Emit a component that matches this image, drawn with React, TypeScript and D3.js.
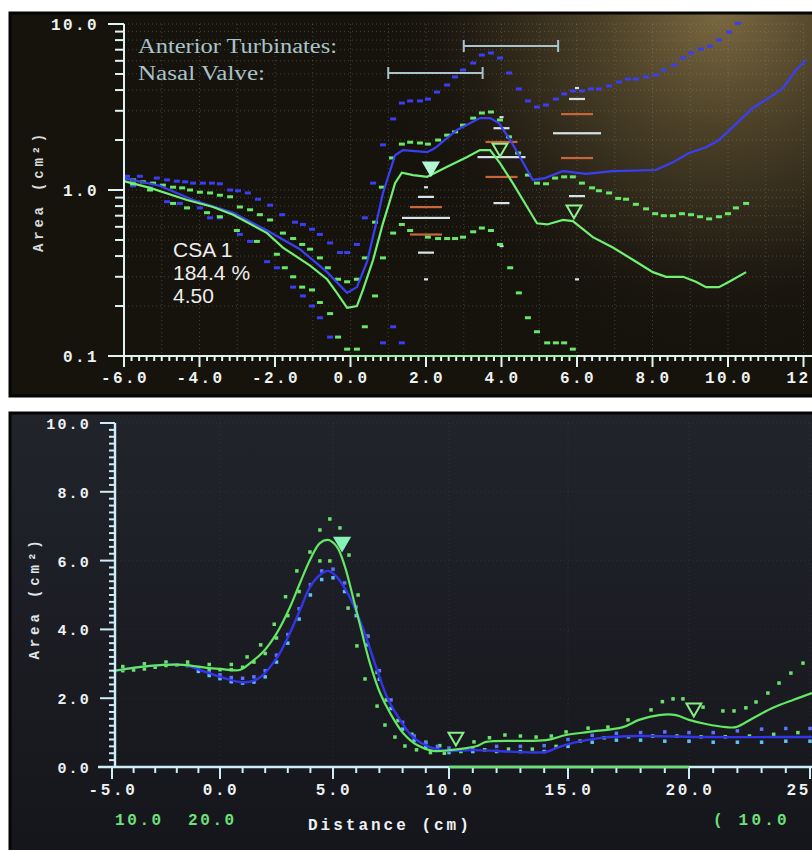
import React, { Component } from "react";
import * as d3 from "d3";

// ---------- upper photo: area (log) vs distance ----------
const topDistTickValues = [-6, -4, -2, 0, 2, 4, 6, 8, 10, 12];
const topDistTicks = ["-6.0", "-4.0", "-2.0", "0.0", "2.0", "4.0", "6.0", "8.0", "10.0", "12."];
const topAreaTickValues = [0.1, 1, 10];
const topAreaTicks = ["0.1", "1.0", "10.0"];

const topBlueLine = [
  [-6.0, 1.18], [-5.05, 1.06], [-4.17, 0.87], [-3.11, 0.73], [-2.21, 0.57], [-1.34, 0.44],
  [-0.62, 0.32], [-0.09, 0.24], [0.17, 0.26], [0.44, 0.37], [0.7, 0.66], [0.86, 0.96],
  [1.18, 1.62], [1.39, 1.74], [2.03, 1.69], [2.24, 1.79], [2.82, 2.3], [3.43, 2.71],
  [3.7, 2.71], [3.93, 2.53], [4.23, 2.0], [4.49, 1.58], [4.83, 1.15], [5.15, 1.18],
  [5.63, 1.3], [6.24, 1.25], [6.95, 1.3], [8.09, 1.32], [8.54, 1.47], [8.97, 1.67],
  [9.42, 1.81], [9.76, 2.0], [10.13, 2.4], [10.66, 3.12], [11.19, 3.73], [11.46, 4.12],
  [11.8, 5.28], [12.07, 6.07],
];

const topGreenLine = [
  [-6.0, 1.13], [-5.31, 1.03], [-4.33, 0.87], [-3.64, 0.79], [-3.11, 0.71], [-2.21, 0.55],
  [-1.79, 0.45], [-1.07, 0.35], [-0.62, 0.29], [-0.36, 0.24], [-0.09, 0.195], [0.17, 0.2],
  [0.33, 0.25], [0.6, 0.38], [0.86, 0.63], [1.05, 0.87], [1.18, 1.1], [1.36, 1.27],
  [1.66, 1.23], [2.03, 1.2], [2.56, 1.38], [3.09, 1.58], [3.43, 1.74], [3.7, 1.74],
  [3.96, 1.45], [4.3, 1.1], [4.68, 0.79], [4.94, 0.63], [5.21, 0.62], [5.63, 0.66],
  [5.89, 0.65], [6.42, 0.52], [6.95, 0.45], [7.48, 0.38], [8.01, 0.32], [8.36, 0.3],
  [8.81, 0.3], [9.15, 0.28], [9.42, 0.26], [9.76, 0.26], [10.03, 0.28], [10.48, 0.32],
];

const topBlueUpper = [
  [-5.92, 1.21], [-5.58, 1.21], [-5.13, 1.18], [-4.86, 1.15], [-4.6, 1.13], [-4.38, 1.12],
  [-4.17, 1.1], [-3.91, 1.1], [-3.67, 1.1], [-3.46, 1.09], [-3.19, 1.0], [-2.98, 0.99],
  [-2.72, 0.96], [-2.45, 0.88], [-2.13, 0.81], [-1.81, 0.71], [-1.47, 0.64], [-1.26, 0.62],
  [-1.02, 0.58], [-0.81, 0.54], [-0.54, 0.48], [-0.28, 0.42], [-0.09, 0.42], [0.17, 0.47],
  [0.38, 0.68], [0.6, 1.1], [0.86, 1.87], [1.13, 2.68], [1.36, 3.34], [1.58, 3.44],
  [1.84, 3.44], [2.05, 3.53], [2.29, 3.89], [2.56, 4.29], [2.77, 4.8], [2.98, 5.28],
  [3.25, 5.82], [3.48, 6.5], [3.72, 6.69], [3.96, 6.24], [4.2, 5.07], [4.46, 4.06],
  [4.7, 3.44], [4.94, 3.16], [5.18, 3.25], [5.44, 3.53], [5.66, 3.79], [5.89, 3.95],
  [6.13, 3.95], [6.37, 4.06], [6.58, 4.06], [6.85, 4.23], [7.11, 4.47], [7.35, 4.66],
  [7.56, 4.66], [7.83, 4.8], [8.09, 4.93], [8.3, 5.28], [8.57, 5.66], [8.81, 6.24],
  [9.02, 6.69], [9.28, 7.06], [9.52, 7.36], [9.76, 8.01], [10.03, 8.94], [10.26, 10.1],
];

const topBlueLower = [
  [-5.76, 1.06], [-5.31, 1.03], [-4.86, 0.85], [-4.52, 0.83], [-3.99, 0.78], [-3.72, 0.68],
  [-3.46, 0.68], [-2.93, 0.54], [-2.66, 0.49], [-2.21, 0.37], [-1.95, 0.34], [-1.52, 0.26],
  [-1.26, 0.23], [-1.02, 0.2], [-0.81, 0.17], [-0.54, 0.13], [0.86, 0.12], [1.13, 0.15],
  [1.36, 0.12],
];

const topGreenUpper = [
  [-5.76, 1.15], [-5.5, 1.12], [-5.23, 1.1], [-4.97, 1.07], [-4.7, 1.04], [-4.46, 1.03],
  [-4.25, 1.0], [-3.99, 0.97], [-3.72, 0.96], [-3.46, 0.93], [-3.19, 0.91], [-2.93, 0.79],
  [-2.66, 0.76], [-2.4, 0.71], [-2.13, 0.66], [-1.79, 0.55], [-1.52, 0.51], [-1.28, 0.47],
  [-1.07, 0.44], [-0.81, 0.39], [-0.6, 0.34], [-0.33, 0.29], [-0.09, 0.28], [0.17, 0.29],
  [0.38, 0.39], [0.65, 0.64], [0.83, 1.04], [1.1, 1.56], [1.36, 1.89], [1.58, 1.94],
  [1.84, 1.92], [2.05, 1.89], [2.32, 2.0], [2.56, 2.14], [2.77, 2.24], [2.98, 2.46],
  [3.25, 2.71], [3.48, 2.91], [3.72, 2.95], [3.96, 2.64], [4.2, 2.09], [4.44, 1.67],
  [4.7, 1.23], [4.94, 1.1], [5.18, 1.09], [5.42, 1.18], [5.66, 1.2], [5.89, 1.2],
  [6.13, 1.1], [6.4, 1.03], [6.58, 0.99], [6.85, 0.96], [7.09, 0.89], [7.3, 0.88],
  [7.56, 0.82], [7.83, 0.77], [8.07, 0.72], [8.3, 0.7], [8.54, 0.7], [8.78, 0.72],
  [9.02, 0.71], [9.26, 0.69], [9.5, 0.67], [9.76, 0.69], [10.0, 0.72], [10.21, 0.78],
  [10.48, 0.83],
];

const topGreenLower = [
  [-5.76, 1.09], [-5.31, 1.0], [-4.7, 0.83], [-4.33, 0.78], [-3.8, 0.73], [-3.46, 0.69],
  [-3.01, 0.57], [-2.48, 0.49], [-1.95, 0.41], [-1.74, 0.34], [-1.52, 0.3], [-1.28, 0.26],
  [-1.02, 0.25], [-0.81, 0.21], [-0.54, 0.18], [-0.33, 0.13], [-0.09, 0.11], [0.17, 0.11],
  [0.38, 0.15], [0.65, 0.23], [0.86, 0.39], [1.13, 0.55], [1.36, 0.62], [1.58, 0.57],
  [2.05, 0.52], [2.32, 0.51], [2.56, 0.51], [2.77, 0.51], [2.98, 0.52], [3.25, 0.56],
  [3.48, 0.59], [3.72, 0.57], [3.96, 0.47], [4.23, 0.34], [4.46, 0.24], [4.7, 0.17],
  [4.94, 0.14], [5.21, 0.12], [5.44, 0.12], [5.66, 0.12], [5.89, 0.11],
];

// spread markers at 2, 4 and 6 cm: min, p10, q1, median, q3, p90, max
const boxDist = [2, 4, 6];
const boxStats = [
  [0.29, 0.42, 0.54, 0.68, 0.79, 0.91, 1.04],
  [0.46, 0.835, 1.2, 1.58, 1.95, 2.36, 2.75],
  [0.29, 0.92, 1.56, 2.2, 2.87, 3.54, 4.12],
];

const topMarkerDist = [2.13, 3.96, 5.92];
const topMarkerArea = [1.38, 1.79, 0.76];
const topMarkerFilled = [true, false, false];

const rangeLabels = ["Anterior Turbinates:", "Nasal Valve:"];
const rangeStart = [3.0, 1.0];
const rangeEnd = [5.5, 3.5];

const csaLines = ["CSA 1", "184.4 %", "4.50"];

// ---------- lower photo: area (linear) vs distance ----------
const botDistTickValues = [-5, 0, 5, 10, 15, 20, 25];
const botDistTicks = ["-5.0", "0.0", "5.0", "10.0", "15.0", "20.0", "25.0"];
const botAreaTickValues = [0, 2, 4, 6, 8, 10];
const botAreaTicks = ["0.0", "2.0", "4.0", "6.0", "8.0", "10.0"];
const botRange = [10, 20];

const botGreenLine = [
  [-4.95, 2.79], [-3.24, 2.94], [-1.71, 2.97], [-0.6, 2.88], [0, 2.85], [0.88, 2.82],
  [1.33, 3.02], [1.9, 3.34], [2.52, 3.9], [3.1, 4.65], [3.54, 5.35], [3.98, 6.02],
  [4.42, 6.51], [4.78, 6.6], [5.17, 6.4], [5.52, 5.81], [5.86, 4.94], [6.25, 3.9],
  [6.59, 3.02], [7.03, 2.15], [7.46, 1.57], [8.02, 0.99], [8.62, 0.64], [9.31, 0.47],
  [10.04, 0.49], [11.18, 0.61], [11.55, 0.73], [14.08, 0.78], [14.92, 0.93], [15.87, 1.02],
  [17.27, 1.16], [17.93, 1.37], [18.76, 1.51], [19.46, 1.51], [20.0, 1.37], [20.7, 1.25],
  [21.53, 1.16], [21.94, 1.16], [22.64, 1.42], [23.47, 1.72], [24.3, 1.95], [25.08, 2.15],
];

const botBlueLine = [
  [-4.95, 2.79], [-3.24, 2.94], [-1.71, 2.97], [-0.93, 2.82], [0, 2.62], [0.88, 2.47],
  [1.46, 2.5], [1.9, 2.67], [2.35, 3.02], [2.65, 3.31], [3.1, 3.9], [3.54, 4.56],
  [3.98, 5.23], [4.42, 5.58], [4.78, 5.7], [5.17, 5.52], [5.6, 5.09], [6.03, 4.48],
  [6.47, 3.69], [6.9, 2.82], [7.33, 2.03], [7.89, 1.37], [8.45, 0.87], [9.18, 0.58],
  [9.91, 0.47], [10.99, 0.49], [14.08, 0.44], [14.5, 0.55], [15.21, 0.7], [16.28, 0.84],
  [17.93, 0.9], [20.7, 0.87], [23.47, 0.87], [25.08, 0.87],
];

const botGreenUpper = [
  [-4.5, 2.92], [-3.5, 3.0], [-2.5, 3.05], [-1.5, 3.05], [-0.5, 2.98], [0.5, 2.98],
  [1.2, 3.2], [1.8, 3.55], [2.4, 4.15], [2.9, 4.95], [3.4, 5.7], [3.98, 6.25],
  [4.42, 6.89], [4.86, 7.21], [5.3, 6.95], [5.69, 6.16], [6.08, 5.0], [6.5, 3.8],
  [6.9, 2.75], [7.3, 1.95], [7.8, 1.35], [8.4, 0.95], [9.0, 0.72], [9.6, 0.62],
  [11.05, 0.73], [11.7, 0.85], [12.35, 0.93], [13.0, 0.9], [13.66, 0.87], [14.3, 0.9],
  [14.92, 1.02], [15.83, 1.13], [16.65, 1.16], [17.48, 1.37], [18.43, 1.66], [18.9, 1.9],
  [19.34, 1.98], [19.75, 1.98], [20.58, 1.74], [21.4, 1.63], [21.86, 1.63], [22.35, 1.72],
  [22.77, 1.89], [23.26, 2.15], [23.72, 2.44], [24.21, 2.73], [24.71, 3.02],
];

const botGreenLower = [
  [-4.5, 2.8], [-4.0, 2.82], [-3.5, 2.85], [-3.0, 2.9], [-2.5, 2.95], [-2.0, 2.97],
  [-1.5, 2.95], [-1.0, 2.88], [-0.5, 2.84], [0.0, 2.83], [0.5, 2.83], [1.0, 2.9],
  [1.5, 3.05], [2.0, 3.3], [2.5, 3.75], [3.0, 4.4], [3.5, 5.1], [4.42, 5.99],
  [4.86, 5.99], [5.65, 4.62], [6.03, 3.52], [6.38, 2.56], [6.9, 1.77], [7.24, 1.22],
  [7.67, 0.87], [8.1, 0.61], [8.6, 0.5], [9.2, 0.42], [9.8, 0.4], [10.5, 0.45],
  [11.5, 0.5], [12.5, 0.52], [13.5, 0.52], [14.5, 0.6], [15.5, 0.75], [16.5, 0.85],
  [17.5, 0.88], [18.5, 0.9], [19.5, 0.9], [20.5, 0.88], [21.5, 0.88], [22.5, 0.9],
  [23.5, 0.95], [24.5, 1.0],
];

const botBlueUpper = [
  [-1.0, 2.85], [-0.5, 2.75], [0.0, 2.68], [0.5, 2.6], [1.0, 2.58], [1.5, 2.62],
  [2.0, 2.8], [2.5, 3.25], [3.0, 3.85], [3.5, 4.6], [4.0, 5.3], [4.5, 5.7],
  [5.0, 5.75], [5.5, 5.35], [6.0, 4.65], [6.5, 3.8], [7.0, 2.8], [7.5, 1.95],
  [8.0, 1.3], [8.5, 0.9], [9.0, 0.7], [9.5, 0.6], [10, 0.55], [11, 0.55],
  [12, 0.6], [13, 0.6], [14, 0.62], [15, 0.8], [16, 0.92], [17, 0.98],
  [18, 1.0], [19, 1.02], [20, 1.0], [21, 1.0], [22, 1.05], [23, 1.1], [24, 1.12], [25, 1.12],
];

const botBlueLower = [
  [-1.0, 2.78], [-0.5, 2.66], [0.0, 2.57], [0.5, 2.48], [1.0, 2.44], [1.5, 2.47],
  [2.0, 2.62], [2.5, 3.05], [3.0, 3.6], [3.5, 4.3], [4.0, 5.0], [4.5, 5.45],
  [5.0, 5.5], [5.5, 5.1], [6.0, 4.4], [6.5, 3.55], [7.0, 2.55], [7.5, 1.7],
  [8.0, 1.1], [8.5, 0.78], [9.0, 0.58], [9.5, 0.5], [10, 0.42], [11, 0.45],
  [12, 0.45], [13, 0.45], [14, 0.45], [15, 0.6], [16, 0.72], [17, 0.78],
  [18, 0.78], [19, 0.75], [20, 0.75], [21, 0.72], [22, 0.72], [23, 0.72], [24, 0.75], [25, 0.75],
];

const botMarkerDist = [5.39, 10.29, 20.2];
const botMarkerArea = [6.54, 0.87, 1.72];
const botMarkerFilled = [true, false, false];

const mono = "'Liberation Mono', 'DejaVu Sans Mono', monospace";

class App extends Component {
  constructor(props) {
    super(props);
    this.svgRef = React.createRef();
    this.draw = this.draw.bind(this);
  }

  componentDidMount() {
    this.draw();
  }

  marks(g, data, x, y, color, w, h) {
    g.append("g")
      .selectAll("rect")
      .data(data)
      .enter()
      .append("rect")
      .attr("x", (d) => x(d[0]) - w / 2)
      .attr("y", (d) => y(d[1]) - h / 2)
      .attr("width", w)
      .attr("height", h)
      .attr("fill", color);
  }

  triangles(g, xs, ys, filled, x, y, fillColor, lineColor) {
    const tri = d3.symbol().type(d3.symbolTriangle).size(95);
    g.append("g")
      .selectAll("path")
      .data(xs.map((d, i) => i))
      .enter()
      .append("path")
      .attr("d", tri)
      .attr("transform", (i) => `translate(${x(xs[i])},${y(ys[i])}) rotate(180)`)
      .attr("fill", (i) => (filled[i] ? fillColor : "none"))
      .attr("stroke", (i) => (filled[i] ? fillColor : lineColor))
      .attr("stroke-width", 2);
  }

  drawTop(svg) {
    const g = svg.append("g").attr("clip-path", "url(#clipTop)");
    g.append("rect").attr("x", 9).attr("y", 12).attr("width", 803).attr("height", 385).attr("fill", "#16130d");
    g.append("rect").attr("x", 9).attr("y", 12).attr("width", 803).attr("height", 385).attr("fill", "url(#glowTop)");

    const x = d3.scaleLinear().domain([-6, 12]).range([124, 803.5]);
    const y = d3.scaleLog().domain([0.1, 10]).range([356, 24]);

    // dotted grid
    const grid = g.append("g").attr("stroke", "#9a9a90").attr("stroke-opacity", 0.35).attr("stroke-dasharray", "1 3");
    grid.selectAll(".gx").data(d3.range(-5, 13)).enter().append("line")
      .attr("x1", (d) => x(d)).attr("x2", (d) => x(d)).attr("y1", y(10)).attr("y2", y(0.1));
    grid.selectAll(".gy").data(y.ticks()).enter().append("line")
      .attr("x1", x(-6)).attr("x2", x(12)).attr("y1", (d) => y(d)).attr("y2", (d) => y(d));

    // range bars
    const rb = g.append("g").attr("stroke", "#a9c3cb").attr("stroke-width", 2);
    rangeStart.forEach((s, i) => {
      const yy = 46 + i * 27;
      rb.append("line").attr("x1", x(s)).attr("x2", x(rangeEnd[i])).attr("y1", yy).attr("y2", yy);
      rb.append("line").attr("x1", x(s)).attr("x2", x(s)).attr("y1", yy - 6).attr("y2", yy + 6);
      rb.append("line").attr("x1", x(rangeEnd[i])).attr("x2", x(rangeEnd[i])).attr("y1", yy - 6).attr("y2", yy + 6);
    });
    const labelWidths = [199, 127];
    g.append("g").selectAll("text").data(rangeLabels).enter().append("text")
      .attr("x", 138).attr("y", (d, i) => 53 + i * 27)
      .attr("font-family", "'Liberation Serif', 'DejaVu Serif', serif")
      .attr("font-size", 20).attr("fill", "#a9c3cb")
      .attr("textLength", (d, i) => labelWidths[i]).attr("lengthAdjust", "spacingAndGlyphs")
      .text((d) => d);

    // spread markers
    const widths = [4, 16, 32, 48, 32, 16, 4];
    const colors = ["#d6e4ea", "#d6e4ea", "#c8653a", "#d6e4ea", "#c8653a", "#d6e4ea", "#d6e4ea"];
    boxDist.forEach((bx, i) => {
      g.append("g").selectAll("rect").data(boxStats[i]).enter().append("rect")
        .attr("x", (d, j) => x(bx) - widths[j] / 2)
        .attr("y", (d) => y(d) - 1)
        .attr("width", (d, j) => widths[j])
        .attr("height", 2.2)
        .attr("fill", (d, j) => colors[j]);
    });

    // bands
    this.marks(g, topBlueUpper, x, y, "#3b3ef2", 6, 3);
    this.marks(g, topBlueLower, x, y, "#3b3ef2", 6, 3);
    this.marks(g, topGreenUpper, x, y, "#6ae66a", 6, 3);
    this.marks(g, topGreenLower, x, y, "#6ae66a", 6, 3);

    const line = d3.line().x((d) => x(d[0])).y((d) => y(d[1]));
    g.append("path").datum(topBlueLine).attr("d", line).attr("fill", "none").attr("stroke", "#3a3ff5").attr("stroke-width", 2.2);
    g.append("path").datum(topGreenLine).attr("d", line).attr("fill", "none").attr("stroke", "#72f072").attr("stroke-width", 2.2);

    this.triangles(g, topMarkerDist, topMarkerArea, topMarkerFilled, x, y, "#b3f7d6", "#8ef08e");

    // axes
    const ax = g.append("g").attr("stroke", "#dff3f3").attr("stroke-width", 2);
    ax.append("line").attr("x1", x(-6)).attr("x2", x(-6)).attr("y1", y(10)).attr("y2", y(0.1));
    ax.selectAll(".ty").data(y.ticks()).enter().append("line")
      .attr("x1", (d) => (topAreaTickValues.includes(d) ? x(-6) - 16 : x(-6) - 9))
      .attr("x2", x(-6)).attr("y1", (d) => y(d)).attr("y2", (d) => y(d));
    ax.append("line").attr("x1", x(-6) - 4).attr("x2", x(12) + 10).attr("y1", y(0.1)).attr("y2", y(0.1));
    g.append("line").attr("x1", x(0)).attr("x2", x(6)).attr("y1", y(0.1)).attr("y2", y(0.1))
      .attr("stroke", "#9ef0a8").attr("stroke-width", 2);
    const minor = d3.range(0, 91).map((i) => -6 + i * 0.2);
    ax.selectAll(".tx").data(minor).enter().append("line")
      .attr("x1", (d) => x(d)).attr("x2", (d) => x(d)).attr("y1", y(0.1))
      .attr("y2", (d, i) => (i % 10 === 0 ? y(0.1) + 11 : y(0.1) + 5));

    g.append("g").selectAll("text").data(topAreaTicks).enter().append("text")
      .attr("x", 99).attr("y", (d, i) => y(topAreaTickValues[i]) + 6)
      .attr("text-anchor", "end").attr("font-family", mono).attr("font-weight", "bold")
      .attr("font-size", 16).attr("letter-spacing", 2.4).attr("fill", "#eef2f2").text((d) => d);
    g.append("g").selectAll("text").data(topDistTicks).enter().append("text")
      .attr("x", (d, i) => x(topDistTickValues[i]) + 1).attr("y", 383)
      .attr("text-anchor", "middle").attr("font-family", mono).attr("font-weight", "bold")
      .attr("font-size", 16).attr("letter-spacing", 2.4).attr("fill", "#eef2f2").text((d) => d);
    g.append("text").attr("transform", "translate(43,191) rotate(-90)")
      .attr("text-anchor", "middle").attr("font-family", mono).attr("font-weight", "bold")
      .attr("font-size", 14).attr("letter-spacing", 3.8).attr("fill", "#d6dcdc").text("Area (cm²)");

    g.append("g").selectAll("text").data(csaLines).enter().append("text")
      .attr("x", 173).attr("y", (d, i) => 257 + i * 23)
      .attr("font-family", "'Liberation Sans', Arial, sans-serif")
      .attr("font-size", 21).attr("fill", "#eeeeee").text((d) => d);
  }

  drawBottom(svg) {
    const g = svg.append("g").attr("clip-path", "url(#clipBot)");
    g.append("rect").attr("x", 9).attr("y", 412).attr("width", 803).attr("height", 438).attr("fill", "url(#bgBot)");

    // piecewise scale follows the slight perspective of the photographed screen
    const x = d3.scaleLinear().domain(botDistTickValues).range([112, 220, 333, 449, 568, 689, 810]);
    const y = d3.scaleLinear().domain([0, 10]).range([767, 423]);

    const grid = g.append("g").attr("stroke", "#8890a0").attr("stroke-opacity", 0.14).attr("stroke-dasharray", "1 3");
    grid.selectAll(".gx").data(botDistTickValues.slice(1)).enter().append("line")
      .attr("x1", (d) => x(d)).attr("x2", (d) => x(d)).attr("y1", y(10)).attr("y2", y(0));
    grid.selectAll(".gy").data(botAreaTickValues.slice(1)).enter().append("line")
      .attr("x1", x(-5)).attr("x2", 812).attr("y1", (d) => y(d)).attr("y2", (d) => y(d));

    this.marks(g, botGreenUpper, x, y, "#6ee06e", 3.5, 3.5);
    this.marks(g, botGreenLower, x, y, "#6ee06e", 3.5, 3.5);
    this.marks(g, botBlueUpper, x, y, "#5c74ff", 3.5, 3.5);
    this.marks(g, botBlueLower, x, y, "#5cc4f2", 3.5, 3.5);

    const line = d3.line().x((d) => x(d[0])).y((d) => y(d[1])).curve(d3.curveCatmullRom);
    g.append("path").datum(botBlueLine).attr("d", line).attr("fill", "none").attr("stroke", "#3434ea").attr("stroke-width", 2.4);
    g.append("path").datum(botGreenLine).attr("d", line).attr("fill", "none").attr("stroke", "#62e862").attr("stroke-width", 2.2);

    this.triangles(g, botMarkerDist, botMarkerArea, botMarkerFilled, x, y, "#86f2b6", "#86f086");

    const ax = g.append("g").attr("stroke", "#cdeef8").attr("stroke-width", 2.4);
    ax.append("line").attr("x1", 115).attr("x2", 115).attr("y1", y(10)).attr("y2", y(0));
    ax.selectAll(".ty").data(d3.range(0, 51)).enter().append("line")
      .attr("x1", (i) => (i % 10 === 0 ? 100 : 109)).attr("x2", 115)
      .attr("y1", (i) => y(i * 0.2)).attr("y2", (i) => y(i * 0.2))
      .attr("stroke-width", 2);
    ax.append("line").attr("x1", 98).attr("x2", 812).attr("y1", y(0)).attr("y2", y(0));
    ax.selectAll(".tx").data(d3.range(-5, 26)).enter().append("line")
      .attr("x1", (d) => x(d)).attr("x2", (d) => x(d)).attr("y1", y(0))
      .attr("y2", (d) => (d % 5 === 0 ? y(0) + 12 : y(0) + 6))
      .attr("stroke-width", 2);
    g.append("line").attr("x1", x(botRange[0])).attr("x2", x(botRange[1])).attr("y1", y(0)).attr("y2", y(0))
      .attr("stroke", "#66e070").attr("stroke-width", 2.6);

    g.append("g").selectAll("text").data(botAreaTicks).enter().append("text")
      .attr("x", 91).attr("y", (d, i) => y(botAreaTickValues[i]) + 6)
      .attr("text-anchor", "end").attr("font-family", mono).attr("font-weight", "bold")
      .attr("font-size", 15).attr("letter-spacing", 2.2).attr("fill", "#eef2f4").text((d) => d);
    g.append("g").selectAll("text").data(botDistTicks).enter().append("text")
      .attr("x", (d, i) => x(botDistTickValues[i]) + 1).attr("y", 795)
      .attr("text-anchor", "middle").attr("font-family", mono).attr("font-weight", "bold")
      .attr("font-size", 16).attr("letter-spacing", 2.6).attr("fill", "#eef2f4").text((d) => d);
    g.append("text").attr("transform", "translate(39,598) rotate(-90)")
      .attr("text-anchor", "middle").attr("font-family", mono).attr("font-weight", "bold")
      .attr("font-size", 14).attr("letter-spacing", 3.9).attr("fill", "#dde6ea").text("Area (cm²)");
    g.append("text").attr("x", 308).attr("y", 830)
      .attr("font-family", mono).attr("font-weight", "bold")
      .attr("font-size", 16).attr("letter-spacing", 3).attr("fill", "#eef2f4").text("Distance (cm)");
    g.append("g").selectAll("text").data(botRange).enter().append("text")
      .attr("x", (d, i) => 115 + i * 73).attr("y", 825)
      .attr("font-family", mono).attr("font-weight", "bold")
      .attr("font-size", 16).attr("letter-spacing", 2.6).attr("fill", "#6ee07a").text((d) => d.toFixed(1));
    g.append("text").attr("x", 713).attr("y", 825)
      .attr("font-family", mono).attr("font-weight", "bold")
      .attr("font-size", 16).attr("letter-spacing", 3.2).attr("fill", "#6ee07a").text("( " + botRange[0].toFixed(1));
  }

  draw() {
    const svg = d3.select(this.svgRef.current);
    svg.selectAll("*").remove();
    const defs = svg.append("defs");
    defs.append("clipPath").attr("id", "clipTop").append("rect")
      .attr("x", 9).attr("y", 12).attr("width", 803).attr("height", 385);
    defs.append("clipPath").attr("id", "clipBot").append("rect")
      .attr("x", 9).attr("y", 412).attr("width", 803).attr("height", 438);
    const glow = defs.append("radialGradient").attr("id", "glowTop")
      .attr("gradientUnits", "userSpaceOnUse").attr("cx", 720).attr("cy", 10).attr("r", 340);
    glow.append("stop").attr("offset", 0).attr("stop-color", "#7a6840");
    glow.append("stop").attr("offset", 0.35).attr("stop-color", "#4c4128");
    glow.append("stop").attr("offset", 0.75).attr("stop-color", "#211c13");
    glow.append("stop").attr("offset", 1).attr("stop-color", "#16130d").attr("stop-opacity", 0);
    const bg = defs.append("linearGradient").attr("id", "bgBot").attr("x1", 0).attr("y1", 0).attr("x2", 0).attr("y2", 1);
    bg.append("stop").attr("offset", 0).attr("stop-color", "#22242c");
    bg.append("stop").attr("offset", 1).attr("stop-color", "#15161b");

    svg.append("rect").attr("width", 812).attr("height", 850).attr("fill", "#ffffff");
    this.drawTop(svg);
    this.drawBottom(svg);
    svg.append("rect").attr("x", 10).attr("y", 13).attr("width", 804).attr("height", 383)
      .attr("fill", "none").attr("stroke", "#050505").attr("stroke-width", 3);
    svg.append("rect").attr("x", 10).attr("y", 413).attr("width", 804).attr("height", 440)
      .attr("fill", "none").attr("stroke", "#050505").attr("stroke-width", 3);
  }

  render() {
    return (
      <svg
        ref={this.svgRef}
        width={812}
        height={850}
        style={{ position: "absolute", left: 0, top: 0, display: "block" }}
      />
    );
  }
}

export default App;
